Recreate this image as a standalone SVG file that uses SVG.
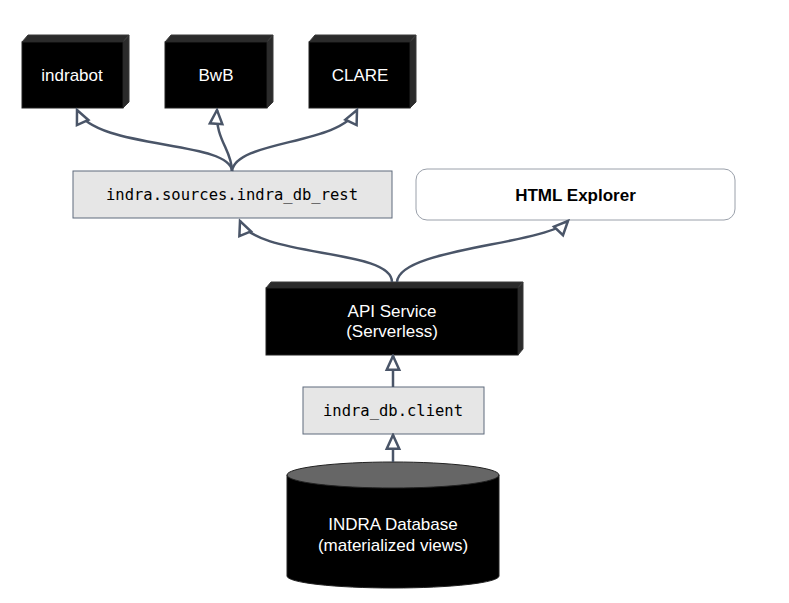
<svg xmlns="http://www.w3.org/2000/svg" width="789" height="603" viewBox="0 0 789 603">
<style>
.front{fill:#000;stroke:#222;stroke-width:1}
.bevel{fill:#2b2b2b;stroke:#3a3a3a;stroke-width:1}
.wt{font-family:"Liberation Sans",Arial,sans-serif;font-size:17px;fill:#fff;text-anchor:middle}
.mono{font-family:"DejaVu Sans Mono",monospace;font-size:15.5px;fill:#000;text-anchor:middle}
.lib{fill:#e6e6e6;stroke:#5f6b7c;stroke-width:1}
.edge{fill:none;stroke:#4a5568;stroke-width:2.5}
</style>
<defs>
<marker id="arr" markerUnits="userSpaceOnUse" markerWidth="20" markerHeight="20" viewBox="-14 -8 16 16" refX="0" refY="0" orient="auto">
<path d="M0,0 L-11,-5 L-11,5 Z" fill="#fff" stroke="#4a5568" stroke-width="2"/>
</marker>
</defs>
<rect width="789" height="603" fill="#fff"/>
<g id="indrabot">
<polygon class="bevel" points="22,42 28,35 129,35 123,42"/>
<polygon class="bevel" points="123,42 129,35 129,102 123,108"/>
<rect class="front" x="22" y="42" width="101" height="66"/>
<text class="wt" x="72" y="81">indrabot</text>
</g>
<g id="bwb">
<polygon class="bevel" points="165,42 171,35 273,35 267,42"/>
<polygon class="bevel" points="267,42 273,35 273,102 267,108"/>
<rect class="front" x="165" y="42" width="102" height="66"/>
<text class="wt" x="216" y="81">BwB</text>
</g>
<g id="clare">
<polygon class="bevel" points="309,42 315,35 416,35 410,42"/>
<polygon class="bevel" points="410,42 416,35 416,102 410,108"/>
<rect class="front" x="309" y="42" width="101" height="66"/>
<text class="wt" x="360" y="81">CLARE</text>
</g>
<g id="indra_db_rest">
<rect class="lib" x="73" y="171" width="319" height="47"/>
<text class="mono" x="232" y="200">indra.sources.indra_db_rest</text>
</g>
<g id="html_explorer">
<rect x="416" y="169" width="319" height="51" rx="11" ry="11" fill="#fff" stroke="#9aa0aa" stroke-width="1"/>
<text x="575.5" y="201" font-family="Liberation Sans,Arial,sans-serif" font-size="17" font-weight="bold" text-anchor="middle" fill="#000">HTML Explorer</text>
</g>
<g id="api_service">
<polygon class="bevel" points="266,288 271,282 523,282 518,288"/>
<polygon class="bevel" points="518,288 523,282 523,349 518,355"/>
<rect class="front" x="266" y="288" width="252" height="67"/>
<text class="wt" x="392" y="317">API Service</text>
<text class="wt" x="392" y="337">(Serverless)</text>
</g>
<g id="indra_db_client">
<rect class="lib" x="303" y="387" width="181" height="47"/>
<text class="mono" x="393" y="416">indra_db.client</text>
</g>
<g id="indra_database">
<path d="M287,475 L287,576 A106,12 0 0 0 499,576 L499,475 Z" fill="#000" stroke="#222" stroke-width="1"/>
<ellipse cx="393" cy="475" rx="106" ry="13" fill="#666" stroke="#222" stroke-width="1"/>
<text class="wt" x="393" y="530">INDRA Database</text>
<text class="wt" x="393" y="551">(materialized views)</text>
</g>
<g id="connectors">
<path class="edge" marker-end="url(#arr)" d="M393,462 L393,435"/>
<path class="edge" marker-end="url(#arr)" d="M393,387 L393,356"/>
<path class="edge" marker-end="url(#arr)" d="M392,282 C392,248 255,258 240,221"/>
<path class="edge" marker-end="url(#arr)" d="M397,282 C399,248 545,245 568,221"/>
<path class="edge" marker-end="url(#arr)" d="M232,171 C230,140 95,150 77,110"/>
<path class="edge" marker-end="url(#arr)" d="M232,171 C232,150 215,140 217,110"/>
<path class="edge" marker-end="url(#arr)" d="M232,171 C236,140 340,145 357,110"/>
</g>
</svg>
